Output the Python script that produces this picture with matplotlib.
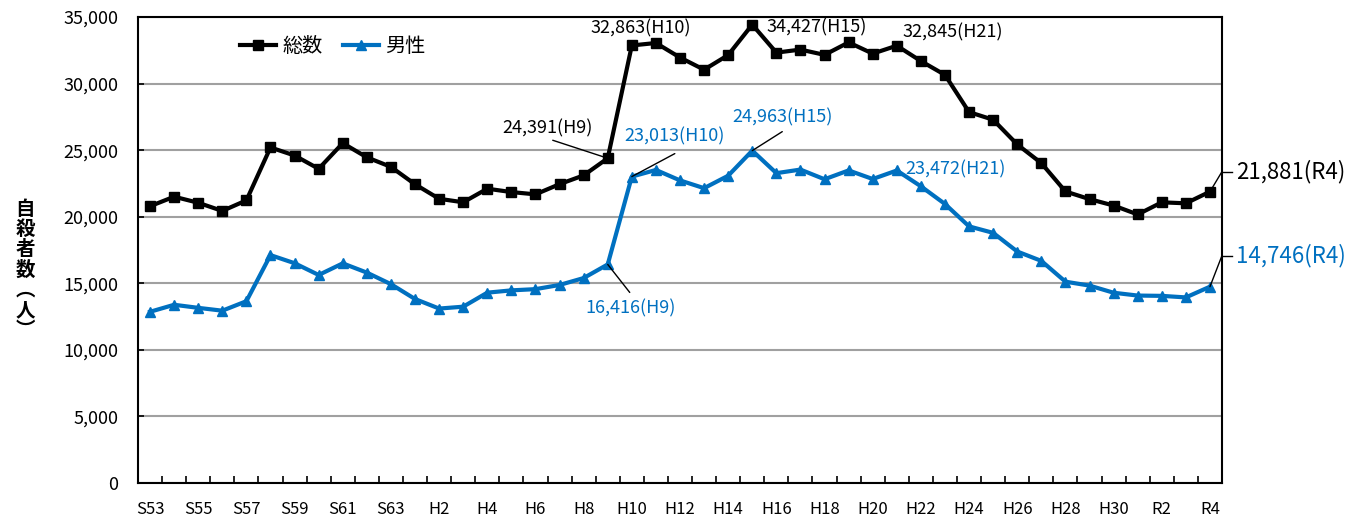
import matplotlib
matplotlib.use("Agg")
import matplotlib.pyplot as plt
import numpy as np

plt.rcParams['font.family'] = ['Noto Sans CJK JP', 'DejaVu Sans']

years = ["S53", "S54", "S55", "S56", "S57", "S58", "S59", "S60", "S61", "S62", "S63",
         "H1", "H2", "H3", "H4", "H5", "H6", "H7", "H8", "H9", "H10",
         "H11", "H12", "H13", "H14", "H15", "H16", "H17", "H18", "H19", "H20",
         "H21", "H22", "H23", "H24", "H25", "H26", "H27", "H28", "H29", "H30",
         "R1", "R2", "R3", "R4"]

total = [20788, 21503, 21048, 20434, 21228, 25202, 24596, 23599, 25524, 24460,
         23742, 22436, 21346, 21084, 22104, 21851, 21679, 22445, 23104, 24391,
         32863, 33048, 31957, 31042, 32143, 34427, 32325, 32552, 32155, 33093,
         32249, 32845, 31690, 30651, 27858, 27283, 25427, 24025, 21897, 21321,
         20840, 20169, 21081, 21007, 21881]

male = [12859, 13386, 13155, 12942, 13654, 17116, 16508, 15624, 16497, 15802,
        14934, 13818, 13102, 13242, 14296, 14468, 14560, 14874, 15393, 16416,
        23013, 23512, 22727, 22144, 23080, 24963, 23272, 23540, 22813, 23478,
        22831, 23472, 22283, 20955, 19273, 18787, 17386, 16681, 15121, 14826,
        14290, 14078, 14055, 13939, 14746]

tick_labels = years[::2]
y_ticks = list(range(0, 35001, 5000))

BLUE = '#0070C0'

W, H = 1349, 523
fig = plt.figure(figsize=(W / 100, H / 100), dpi=100)
ax = fig.add_axes([138 / W, 1 - 483 / H, (1222 - 138) / W, (483 - 17) / H])

x = np.arange(len(years))
ax.plot(x, total, color='black', lw=3.0, marker='s', ms=6.5, label='総数', zorder=4)
ax.plot(x, male, color=BLUE, lw=3.0, marker='^', ms=6.5, label='男性', zorder=4)

ax.set_xlim(-0.5, len(years) - 0.5)
ax.set_ylim(0, 35000)
ax.set_yticks(y_ticks)
ax.set_yticklabels([f"{v:,}" for v in y_ticks])
ax.grid(axis='y', color='#a0a0a0', lw=1.5, zorder=0)
ax.set_axisbelow(True)

ax.set_xticks(x[::2])
ax.set_xticklabels(tick_labels)
ax.set_xticks(np.arange(len(years) + 1) - 0.5, minor=True)
ax.tick_params(axis='x', which='major', length=0, pad=13, labelsize=12)
ax.tick_params(axis='x', which='minor', length=5, width=1.2, direction='in')
ax.tick_params(axis='y', length=4, width=1.2, direction='in', pad=14, labelsize=13)
for s in ax.spines.values():
    s.set_linewidth(1.5)
    s.set_color('black')

ax.legend(loc='center left', bbox_to_anchor=((240 - 138) / 1084, (483 - 47) / 466),
          ncol=2, frameon=False, fontsize=14.5, handlelength=1.8, handletextpad=0.3,
          columnspacing=1.0, borderpad=0, borderaxespad=0)


def lead(i, vals, dx, dy):
    ax.annotate('', xy=(i, vals[i]), xycoords='data',
                xytext=(dx, dy), textcoords='offset pixels',
                arrowprops=dict(arrowstyle='-', color='black', lw=1.0,
                                shrinkA=0, shrinkB=0),
                annotation_clip=False, zorder=5)


def label(i, vals, dx, dy, color='black', ha='center', size=13):
    ax.annotate(f"{vals[i]:,}({years[i]})", xy=(i, vals[i]), xycoords='data',
                xytext=(dx, dy), textcoords='offset pixels', ha=ha, va='center',
                color=color, fontsize=size, zorder=6, annotation_clip=False)


i9 = years.index('H9'); i10 = years.index('H10'); i15 = years.index('H15')
i21 = years.index('H21'); i4 = years.index('R4')

# Total annotations
label(i9, total, -60, 30)
lead(i9, total, -55, 18)
label(i10, total, 9, 17)
label(i15, total, 14, -3, ha='left')
label(i21, total, 6, 13, ha='left')

# Male annotations
label(i10, male, 43, 40, color=BLUE)
lead(i10, male, 43, 23)
label(i15, male, 30, 33, color=BLUE)
lead(i15, male, 30, 19)
label(i9, male, 23, -44, color=BLUE)
lead(i9, male, 22, -28)
label(i21, male, 9, 1, color=BLUE, ha='left')

# R4 annotations with bent leader
for vals, dy, col in [(total, 20, 'black'), (male, 31, BLUE)]:
    lead(i4, vals, 12, dy)
    base = ax.transData.transform((i4, vals[i4]))
    p0 = base + np.array([12, dy]); p1 = base + np.array([22, dy])
    fig.add_artist(plt.Line2D([p0[0] / W, p1[0] / W], [p0[1] / H, p1[1] / H],
                              transform=fig.transFigure, color='black', lw=1.0))
    label(i4, vals, 26, dy, color=col, ha='left', size=16)

fig.text(25 / W, 1 - 270 / H, "自\n殺\n者\n数\n︵\n人\n︶", ha='center', va='center',
         fontsize=14, linespacing=1.08, fontweight='bold')

fig.savefig('out.png', dpi=100)
